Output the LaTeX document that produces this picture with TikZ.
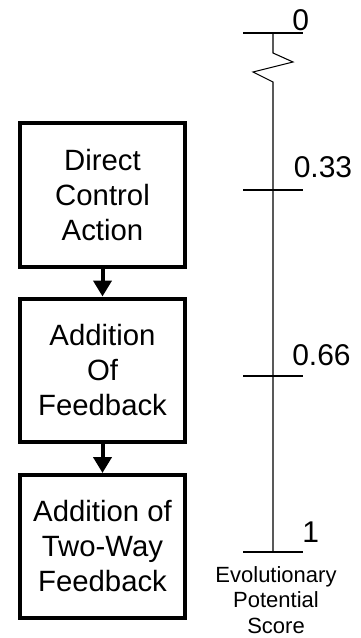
\documentclass[tikz,border=0pt]{standalone}
\usepackage{fontspec}
\setmainfont{Liberation Sans}
\usetikzlibrary{arrows.meta}
\begin{document}
\begin{tikzpicture}[x=0.75pt,y=-0.75pt,
  stagebox/.style={draw=black,line width=3pt,minimum width=123.75pt,minimum height=107.25pt,
    align=center,inner sep=0pt,font=\fontsize{22}{26.25}\selectfont},
  flowarrow/.style={line width=3pt,-{Triangle[width=13.5pt,length=12pt]}},
  axisline/.style={line width=0.8pt,line join=miter},
  ticknum/.style={anchor=base west,inner sep=0pt,font=\fontsize{22.5}{27}\selectfont},
  axislabel/.style={align=center,inner sep=0pt,font=\fontsize{16.5}{19}\selectfont}]
\useasboundingbox (0,0) rectangle (360,638);
% boxes
\node[stagebox] (b1) at (102.5,195) {Direct\\Control\\Action};
\node[stagebox] (b2) at (102.5,370) {Addition\\Of\\Feedback};
\node[stagebox] (b3) at (102.5,546.5) {Addition of\\Two-Way\\Feedback};
\draw[flowarrow] (b1.south) -- (b2.north);
\draw[flowarrow] (b2.south) -- (b3.north);
% axis
\coordinate (t0l) at (243,33);
\coordinate (t0r) at (303,33);
\coordinate (a0) at (273,33);
\coordinate (z1) at (273,53);
\coordinate (z2) at (293,62);
\coordinate (z3) at (253,72);
\coordinate (z4) at (273,82);
\coordinate (a1) at (273,552);
\coordinate (t1l) at (243,190);
\coordinate (t1r) at (303,190);
\coordinate (t2l) at (243,376);
\coordinate (t2r) at (303,376);
\coordinate (t3l) at (243,552);
\coordinate (t3r) at (303,552);
\draw[axisline] (t0l) -- (t0r);
\draw[axisline] (a0) -- (z1) -- (z2) -- (z3) -- (z4) -- (a1);
\draw[axisline] (t1l) -- (t1r);
\draw[axisline] (t2l) -- (t2r);
\draw[axisline] (t3l) -- (t3r);
\node[ticknum] (n0) at (292,31) {0};
\node[ticknum] (n1) at (293.5,177) {0.33};
\node[ticknum] (n2) at (292,365) {0.66};
\node[ticknum] (n3) at (302,542) {1};
\node[axislabel,anchor=base] (lab) at (276,633) {Evolutionary\\Potential\\Score};
\end{tikzpicture}
\end{document}
